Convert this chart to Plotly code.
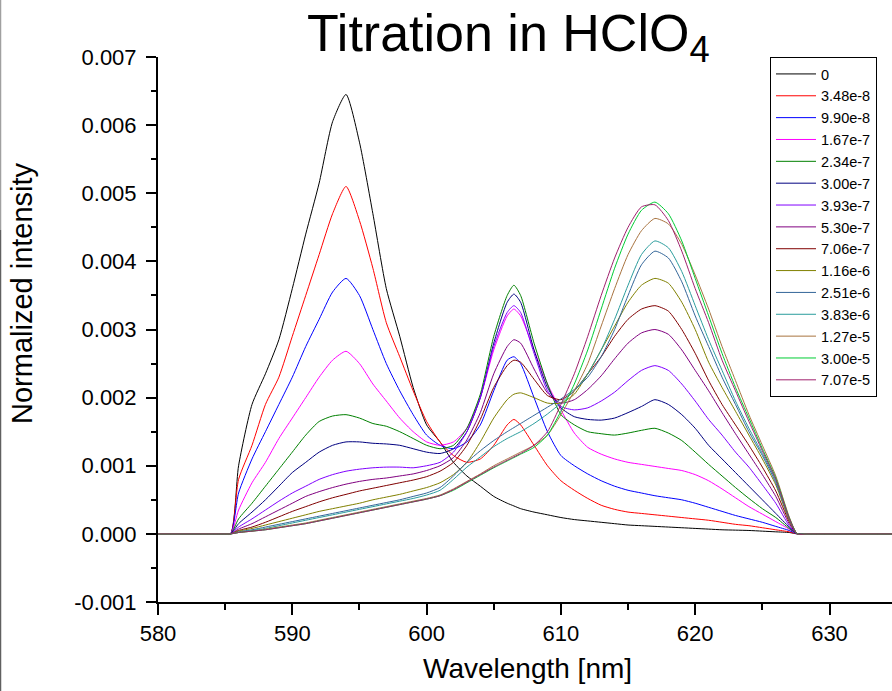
import plotly.graph_objects as go
import numpy as np

# Wavelength grid (nm)
wavelength = [580, 584.6, 585.4, 586, 587, 588, 589, 590, 591, 592, 593, 594, 595, 596, 597, 598, 599,
              600, 601, 602, 603, 604, 605, 606, 606.5, 607, 608, 609, 610, 611, 612, 613, 614,
              615, 616, 617, 618, 619, 620, 621, 622, 623, 624, 625, 626, 627, 627.6, 628.4, 635]

# Normalized intensity values in units of 1e-3
s_0 = [0, 0, 0, 1.0, 1.9, 2.35, 2.85, 3.6, 4.4, 5.15, 6.05, 6.45, 5.75, 4.7, 3.6, 2.9, 2.15, 1.6, 1.35, 1.05, 0.85, 0.7, 0.55, 0.45,
       0.41, 0.37, 0.32, 0.28, 0.24, 0.21, 0.19, 0.17, 0.15, 0.13, 0.12, 0.11, 0.1, 0.09, 0.08, 0.07, 0.06, 0.055, 0.05, 0.04, 0.03, 0.02, 0, 0, 0]
s_348e8 = [0, 0, 0, 0.8, 1.3, 1.9, 2.3, 2.9, 3.5, 4.1, 4.7, 5.1, 4.6, 3.9, 3.1, 2.6, 2.1, 1.65, 1.35, 1.15, 1.05, 1.1, 1.3, 1.6,
           1.68, 1.6, 1.3, 1.0, 0.78, 0.64, 0.52, 0.42, 0.36, 0.32, 0.3, 0.28, 0.26, 0.24, 0.22, 0.2, 0.17, 0.14, 0.12, 0.09, 0.06, 0.03, 0, 0, 0]
s_990e8 = [0, 0, 0, 0.6, 1.1, 1.5, 1.9, 2.3, 2.75, 3.15, 3.55, 3.75, 3.5, 3.0, 2.5, 2.1, 1.75, 1.45, 1.3, 1.25, 1.35, 1.6, 2.1, 2.55,
           2.6, 2.5, 2.0, 1.5, 1.15, 1.0, 0.88, 0.78, 0.7, 0.64, 0.6, 0.56, 0.53, 0.5, 0.45, 0.39, 0.33, 0.27, 0.22, 0.17, 0.11, 0.05, 0, 0, 0]
s_167e7 = [0, 0, 0, 0.35, 0.75, 1.05, 1.4, 1.7, 2.0, 2.3, 2.55, 2.68, 2.5, 2.2, 1.95, 1.7, 1.5, 1.35, 1.3, 1.35, 1.55, 2.0, 2.7, 3.2,
           3.3, 3.2, 2.7, 2.2, 1.82, 1.48, 1.27, 1.17, 1.1, 1.05, 1.02, 0.99, 0.96, 0.93, 0.87, 0.78, 0.66, 0.53, 0.4, 0.29, 0.18, 0.07, 0, 0, 0]
s_234e7 = [0, 0, 0, 0.22, 0.45, 0.7, 0.95, 1.2, 1.45, 1.65, 1.73, 1.75, 1.7, 1.62, 1.58, 1.5, 1.4, 1.3, 1.25, 1.3, 1.55, 2.05, 2.9, 3.5,
           3.65, 3.5, 2.8, 2.2, 1.75, 1.6, 1.5, 1.47, 1.45, 1.48, 1.52, 1.55, 1.48, 1.37, 1.2, 1.02, 0.85, 0.68, 0.52, 0.37, 0.24, 0.08, 0, 0, 0]
s_300e7 = [0, 0, 0, 0.15, 0.32, 0.5, 0.7, 0.9, 1.05, 1.2, 1.3, 1.35, 1.35, 1.33, 1.32, 1.3, 1.25, 1.2, 1.18, 1.25, 1.5, 2.0, 2.8, 3.4,
           3.52, 3.4, 2.7, 2.15, 1.85, 1.72, 1.68, 1.67, 1.7, 1.78, 1.87, 1.97, 1.9, 1.75, 1.55, 1.3, 1.1, 0.9, 0.7, 0.5, 0.3, 0.1, 0, 0, 0]
s_393e7 = [0, 0, 0, 0.1, 0.22, 0.35, 0.48, 0.6, 0.7, 0.8, 0.87, 0.92, 0.95, 0.97, 0.98, 0.98, 0.97, 1.0, 1.05, 1.2, 1.5, 2.0, 2.75, 3.25,
           3.35, 3.25, 2.65, 2.1, 1.87, 1.82, 1.85, 1.95, 2.08, 2.25, 2.4, 2.47, 2.4, 2.2, 1.95, 1.68, 1.45, 1.2, 0.98, 0.72, 0.45, 0.12, 0, 0, 0]
s_530e7 = [0, 0, 0, 0.07, 0.15, 0.25, 0.35, 0.45, 0.55, 0.62, 0.68, 0.73, 0.77, 0.8, 0.82, 0.85, 0.88, 0.93, 1.0, 1.12, 1.38, 1.78, 2.35, 2.75,
           2.85, 2.8, 2.42, 2.07, 1.92, 1.97, 2.12, 2.32, 2.57, 2.8, 2.95, 3.0, 2.93, 2.7, 2.4, 2.1, 1.78, 1.47, 1.17, 0.87, 0.55, 0.15, 0, 0, 0]
s_706e7 = [0, 0, 0, 0.05, 0.1, 0.17, 0.25, 0.33, 0.4, 0.47, 0.53, 0.58, 0.63, 0.67, 0.71, 0.75, 0.79, 0.84, 0.92, 1.05, 1.3, 1.68, 2.15, 2.47,
           2.55, 2.52, 2.27, 2.03, 1.97, 2.1, 2.35, 2.6, 2.9, 3.15, 3.3, 3.35, 3.27, 3.0, 2.65, 2.25, 1.9, 1.6, 1.3, 0.98, 0.63, 0.18, 0, 0, 0]
s_116e6 = [0, 0, 0, 0.04, 0.08, 0.13, 0.18, 0.23, 0.28, 0.33, 0.37, 0.41, 0.45, 0.5, 0.54, 0.58, 0.63, 0.68, 0.75, 0.87, 1.05, 1.35, 1.7, 1.97,
           2.05, 2.07, 2.0, 1.92, 1.92, 2.05, 2.35, 2.7, 3.05, 3.4, 3.65, 3.75, 3.68, 3.4, 3.0, 2.52, 2.15, 1.8, 1.45, 1.1, 0.72, 0.2, 0, 0, 0]
s_251e6 = [0, 0, 0, 0.03, 0.06, 0.1, 0.14, 0.18, 0.22, 0.26, 0.3, 0.34, 0.38, 0.42, 0.46, 0.5, 0.55, 0.6, 0.68, 0.85, 1.05, 1.22, 1.37, 1.5,
           1.56, 1.62, 1.74, 1.86, 1.98, 2.12, 2.3, 2.6, 3.0, 3.5, 3.95, 4.15, 4.05, 3.7, 3.2, 2.75, 2.3, 1.9, 1.5, 1.15, 0.75, 0.22, 0, 0, 0]
s_383e6 = [0, 0, 0, 0.02, 0.05, 0.08, 0.12, 0.16, 0.2, 0.24, 0.28, 0.32, 0.36, 0.4, 0.44, 0.48, 0.52, 0.57, 0.64, 0.8, 0.98, 1.13, 1.28, 1.4,
           1.45, 1.5, 1.62, 1.76, 1.92, 2.1, 2.35, 2.7, 3.15, 3.65, 4.1, 4.3, 4.2, 3.85, 3.35, 2.85, 2.4, 1.95, 1.55, 1.18, 0.78, 0.22, 0, 0, 0]
s_127e5 = [0, 0, 0, 0.02, 0.04, 0.07, 0.1, 0.13, 0.16, 0.2, 0.24, 0.28, 0.32, 0.36, 0.4, 0.44, 0.48, 0.52, 0.57, 0.66, 0.77, 0.88, 1.0, 1.1,
           1.15, 1.2, 1.3, 1.45, 1.75, 2.1, 2.5, 3.05, 3.6, 4.1, 4.45, 4.63, 4.55, 4.25, 3.8, 3.3, 2.75, 2.25, 1.75, 1.3, 0.85, 0.25, 0, 0, 0]
s_300e5 = [0, 0, 0, 0.02, 0.04, 0.06, 0.09, 0.12, 0.15, 0.19, 0.23, 0.27, 0.31, 0.35, 0.39, 0.43, 0.47, 0.51, 0.56, 0.64, 0.75, 0.86, 0.97, 1.07,
           1.12, 1.17, 1.27, 1.45, 1.8, 2.2, 2.7, 3.3, 3.9, 4.4, 4.75, 4.87, 4.7, 4.3, 3.75, 3.2, 2.65, 2.15, 1.7, 1.25, 0.82, 0.24, 0, 0, 0]
s_707e5 = [0, 0, 0, 0.02, 0.04, 0.06, 0.09, 0.12, 0.15, 0.19, 0.23, 0.27, 0.31, 0.35, 0.39, 0.43, 0.47, 0.51, 0.56, 0.65, 0.76, 0.87, 0.98, 1.08,
           1.13, 1.18, 1.3, 1.5, 1.9, 2.35, 2.9, 3.5, 4.05, 4.5, 4.8, 4.83, 4.6, 4.15, 3.6, 3.1, 2.55, 2.1, 1.65, 1.22, 0.8, 0.23, 0, 0, 0]

labels = ["0", "3.48e-8", "9.90e-8", "1.67e-7", "2.34e-7", "3.00e-7", "3.93e-7", "5.30e-7",
          "7.06e-7", "1.16e-6", "2.51e-6", "3.83e-6", "1.27e-5", "3.00e-5", "7.07e-5"]
series = [s_0, s_348e8, s_990e8, s_167e7, s_234e7, s_300e7, s_393e7, s_530e7,
          s_706e7, s_116e6, s_251e6, s_383e6, s_127e5, s_300e5, s_707e5]
colors = ["#000000", "#FF0000", "#0000FF", "#FF00FF", "#008000", "#000080", "#8000FF", "#800080",
          "#800000", "#808000", "#336699", "#2A9D9D", "#A8733F", "#00CC33", "#A0206E"]

# Axis tick values / labels
y_tickvals = [-0.001, 0.0, 0.001, 0.002, 0.003, 0.004, 0.005, 0.006, 0.007]
y_ticktext = ["-0.001", "0.000", "0.001", "0.002", "0.003", "0.004", "0.005", "0.006", "0.007"]
x_tickvals = [580, 590, 600, 610, 620, 630]

fig = go.Figure()
for lab, s, c in zip(labels, series, colors):
    fig.add_trace(go.Scatter(
        x=wavelength, y=np.array(s) * 1e-3, mode="lines", name=lab,
        line=dict(color=c, width=1, shape="spline", smoothing=0.6)))

FONT = "Liberation Sans, Arial, sans-serif"
L, R, T, B = 158, 0, 57, 89
W, H = 892, 691
pw, ph = W - L - R, H - T - B

def px_x(x):
    return (x - L) / pw

def px_y(y):
    return (H - B - y) / ph

fig.update_layout(
    width=W, height=H,
    margin=dict(l=L, r=R, t=T, b=B, pad=0),
    paper_bgcolor="white", plot_bgcolor="white",
    font=dict(family=FONT, color="black"),
    showlegend=True,
    legend=dict(x=px_x(770), y=1.0, xanchor="left", yanchor="top",
                bordercolor="black", borderwidth=1, bgcolor="white",
                itemwidth=40, entrywidth=74, entrywidthmode="pixels",
                font=dict(size=14.5, family=FONT), tracegroupgap=0),
    xaxis=dict(range=[580, 580 + (W - L) / 13.43], showline=True, linecolor="black", linewidth=2,
               ticks="outside", ticklen=11, tickwidth=2, tickcolor="black",
               tickvals=x_tickvals, showgrid=False, zeroline=False,
               tickfont=dict(size=22, family=FONT),
               minor=dict(ticks="outside", ticklen=6, tickwidth=2, dtick=5, tick0=580, tickcolor="black")),
    yaxis=dict(range=[-0.001, 0.007], showline=True, linecolor="black", linewidth=2,
               ticks="outside", ticklen=10, tickwidth=2, tickcolor="black",
               tickvals=y_tickvals, ticktext=y_ticktext, ticklabelstandoff=5,
               showgrid=False, zeroline=False,
               tickfont=dict(size=22, family=FONT),
               minor=dict(ticks="outside", ticklen=5, tickwidth=2, dtick=0.0005, tick0=0, tickcolor="black")),
)

fig.add_annotation(text="Titration in HClO<sub>4</sub>", xref="paper", yref="paper",
                   x=px_x(508), y=px_y(37), xanchor="center", yanchor="middle",
                   showarrow=False, font=dict(size=52, family=FONT))
fig.add_annotation(text="Normalized intensity", xref="paper", yref="paper",
                   x=px_x(22), y=px_y(293), xanchor="center", yanchor="middle", textangle=-90,
                   showarrow=False, font=dict(size=29, family=FONT))
fig.add_annotation(text="Wavelength [nm]", xref="paper", yref="paper",
                   x=px_x(527), y=px_y(668), xanchor="center", yanchor="middle",
                   showarrow=False, font=dict(size=28, family=FONT))

# thin gray frame line at the left edge of the image
fig.add_shape(type="line", xref="paper", yref="paper", x0=px_x(0.5), x1=px_x(0.5),
              y0=px_y(0), y1=px_y(230), line=dict(color="#a0a0a0", width=1.5))
fig.add_shape(type="line", xref="paper", yref="paper", x0=px_x(0.5), x1=px_x(0.5),
              y0=px_y(230), y1=px_y(691), line=dict(color="#606060", width=1.5))

fig.write_html("out.html")
